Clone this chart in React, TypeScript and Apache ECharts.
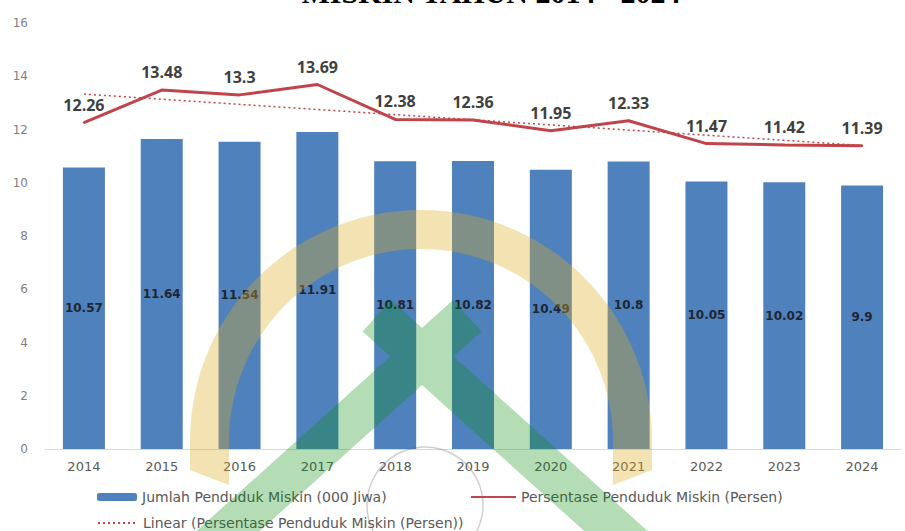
import React, { useEffect, useRef } from "react";
import * as echarts from "echarts";

const years = ["2014", "2015", "2016", "2017", "2018", "2019", "2020", "2021", "2022", "2023", "2024"];
const jumlahPenduduk = [10.57, 11.64, 11.54, 11.91, 10.81, 10.82, 10.49, 10.8, 10.05, 10.02, 9.9];
const persentase = [12.26, 13.48, 13.3, 13.69, 12.38, 12.36, 11.95, 12.33, 11.47, 11.42, 11.39];
const trendEnds = [13.33, 11.4];
const yMin = 0;
const yMax = 16;
const yInterval = 2;

const barName = "Jumlah Penduduk Miskin (000 Jiwa)";
const lineName = "Persentase Penduduk Miskin (Persen)";
const trendName = "Linear (Persentase Penduduk Miskin (Persen))";
const titleText = "MISKIN TAHUN 2014 - 2024";

function archPoints(): number[][] {
  const cx = 421, cy = 441, R = 231, r = 192;
  const pts: number[][] = [];
  pts.push([cx - R, 470]);
  for (let i = 0; i <= 60; i++) {
    const a = Math.PI + (Math.PI * i) / 60;
    pts.push([cx + R * Math.cos(a), cy + R * Math.sin(a)]);
  }
  pts.push([cx + R, 470]);
  pts.push([cx + r, 485]);
  for (let i = 60; i >= 0; i--) {
    const a = Math.PI + (Math.PI * i) / 60;
    pts.push([cx + r * Math.cos(a), cy + r * Math.sin(a)]);
  }
  pts.push([cx - r, 485]);
  return pts;
}

const xShape = [
  [453.1, 300], [481.4, 331.5], [453.7, 356.5], [657.6, 540], [594.2, 540],
  [422, 385], [249.8, 540], [186.4, 540], [390.3, 356.5], [362.6, 331.5],
  [390.9, 300], [422, 328],
];

export default function App() {
  const ref = useRef<HTMLDivElement>(null);
  useEffect(() => {
    document.body.style.margin = "0";
    const chart = echarts.init(ref.current as HTMLDivElement, null, { renderer: "svg" });
    const legendText = { color: "#595959", fontSize: 14, fontFamily: "DejaVu Sans" };
    chart.setOption({
      animation: false,
      grid: { left: 45, right: 4, top: 23, bottom: 82, containLabel: false },
      xAxis: {
        type: "category",
        data: years,
        axisLine: { lineStyle: { color: "#d9d9d9", width: 1 } },
        axisTick: { show: false },
        axisLabel: { color: "#595959", fontSize: 13, fontFamily: "DejaVu Sans", margin: 11 },
      },
      yAxis: {
        type: "value",
        min: yMin,
        max: yMax,
        interval: yInterval,
        splitLine: { show: false },
        axisLine: { show: false },
        axisTick: { show: false },
        axisLabel: { color: "#7f7f7f", fontSize: 12, fontFamily: "DejaVu Sans", margin: 17 },
      },
      legend: [
        { data: [barName], left: 97, top: 490, padding: 0, itemWidth: 40, itemHeight: 8, textStyle: legendText },
        { data: [lineName], left: 470, top: 490, padding: 0, itemWidth: 45, itemHeight: 8, itemStyle: { opacity: 0 }, textStyle: legendText },
        { data: [trendName], left: 97, top: 516, padding: 0, itemWidth: 40, itemHeight: 8, itemStyle: { opacity: 0 }, textStyle: legendText },
      ],
      series: [
        {
          name: barName,
          type: "bar",
          data: jumlahPenduduk,
          barWidth: 42,
          itemStyle: { color: "#4f81bd" },
          label: {
            show: true,
            position: "inside",
            color: "#1f2633",
            fontFamily: "DejaVu Sans",
            fontWeight: "bold",
            fontSize: 12,
          },
          z: 2,
        },
        {
          name: lineName,
          type: "line",
          data: persentase,
          symbol: "circle",
          symbolSize: 2,
          showSymbol: true,
          lineStyle: { color: "#c0444a", width: 3 },
          itemStyle: { color: "#c0444a" },
          label: {
            show: true,
            position: "top",
            distance: 9,
            color: "#404040",
            fontFamily: "Open Sans",
            fontWeight: "bold",
            fontSize: 16,
          },
          z: 3,
        },
        {
          name: trendName,
          type: "line",
          data: [[years[0], trendEnds[0]], [years[years.length - 1], trendEnds[1]]],
          symbol: "none",
          lineStyle: { color: "#c0444a", width: 1.5, type: [2, 3] },
          itemStyle: { color: "#c0444a" },
          z: 4,
        },
      ],
      graphic: [
        {
          type: "text",
          x: 491,
          y: -8,
          z: 100,
          style: {
            text: titleText,
            font: 'bold 30px "Liberation Serif"',
            textAlign: "center",
            textVerticalAlign: "middle",
            fill: "#000000",
          },
        },
        {
          type: "polygon",
          z: 100,
          silent: true,
          shape: { points: archPoints() },
          style: { fill: "rgb(220,171,34)", opacity: 0.35 },
        },
        {
          type: "polygon",
          z: 101,
          silent: true,
          shape: { points: xShape },
          style: { fill: "rgb(5,140,10)", opacity: 0.3 },
        },
        {
          type: "circle",
          z: 101,
          silent: true,
          shape: { cx: 425, cy: 505, r: 58 },
          style: { fill: "none", stroke: "rgba(100,100,100,0.3)", lineWidth: 1.5 },
        },
      ],
    });
    return () => chart.dispose();
  }, []);
  return <div ref={ref} style={{ width: 905, height: 531 }} />;
}
